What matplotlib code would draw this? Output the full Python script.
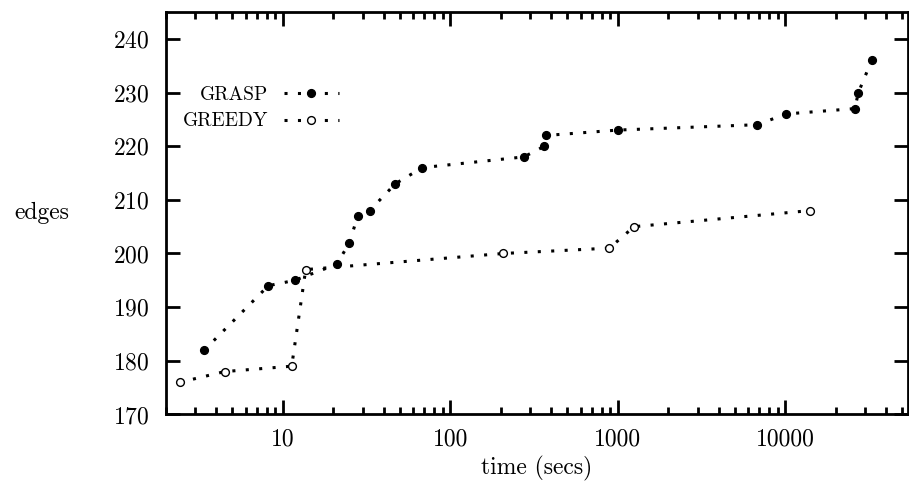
import matplotlib
matplotlib.use("Agg")
import matplotlib.pyplot as plt
from matplotlib.ticker import FixedLocator, LogLocator, NullFormatter, FixedFormatter

plt.rcParams["font.family"] = "cmr10"
plt.rcParams["axes.formatter.use_mathtext"] = True

# GRASP results (time in secs, edges)
grasp_time = [3.4, 8.2, 11.8, 21, 25, 28, 33, 47, 68, 275, 365, 375, 1000, 6800, 10100, 26000, 27300, 32800]
grasp_edges = [182, 194, 195, 198, 202, 207, 208, 213, 216, 218, 220, 222, 223, 224, 226, 227, 230, 236]

# GREEDY results
greedy_time = [2.43, 4.5, 11.3, 13.7, 206, 890, 1250, 14100]
greedy_edges = [176, 178, 179, 197, 200, 201, 205, 208]

xticks = [10, 100, 1000, 10000]
yticks = [170, 180, 190, 200, 210, 220, 230, 240]

fig = plt.figure(figsize=(9.09, 4.84), dpi=100)
ax = fig.add_axes([0.1823, 0.1436, 0.8166, 0.8316])

dots = (0, (1.0, 3.4))
ax.plot(grasp_time, grasp_edges, color="black", lw=2.2, ls=dots, dash_capstyle="butt",
        marker="o", ms=5.6, mfc="black", mec="black", label="GRASP")
ax.plot(greedy_time, greedy_edges, color="black", lw=2.2, ls=dots, dash_capstyle="butt",
        marker="o", ms=5.6, mfc="white", mec="black", mew=1.0, label="GREEDY")

ax.set_xscale("log")
ax.set_xlim(2.0, 54000)
ax.set_ylim(170, 245)

ax.xaxis.set_major_locator(FixedLocator(xticks))
ax.xaxis.set_major_formatter(FixedFormatter([str(t) for t in xticks]))
ax.xaxis.set_minor_locator(LogLocator(base=10, subs=range(2, 10), numticks=20))
ax.xaxis.set_minor_formatter(NullFormatter())
ax.yaxis.set_major_locator(FixedLocator(yticks))

ax.tick_params(which="both", direction="in", top=True, right=True, width=2, labelsize=17)
ax.tick_params(which="major", length=10)
ax.tick_params(axis="x", which="major", pad=10)
ax.tick_params(axis="y", which="major", pad=12)
ax.tick_params(which="minor", length=5)
for s in ax.spines.values():
    s.set_linewidth(2)

ax.set_xlabel("time (secs)", fontsize=17, labelpad=4)
ax.set_ylabel("edges", fontsize=17, rotation=0, ha="center", va="center")
ax.yaxis.set_label_coords(-0.167, 0.5)

leg = ax.legend(loc="upper left", bbox_to_anchor=(0.0, 0.86), frameon=False, markerfirst=False,
                fontsize=14, handlelength=2.8, handletextpad=0.8, labelspacing=0.45)

fig.savefig("out.png", dpi=100)
